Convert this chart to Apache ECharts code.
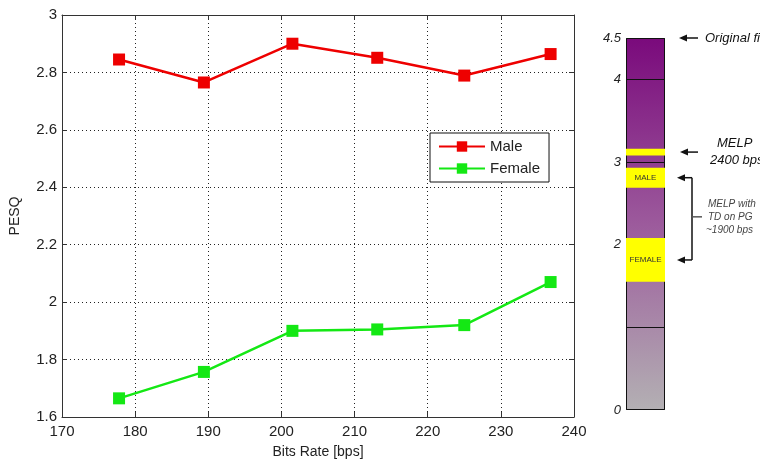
<!DOCTYPE html>
<html>
<head>
<meta charset="utf-8">
<script src="https://cdn.jsdelivr.net/npm/echarts@6/dist/echarts.min.js"></script>
<style>
  html, body { margin: 0; padding: 0; background: #fff; }
  #chart { width: 760px; height: 464px; }
</style>
</head>
<body>
<div id="chart"></div>
<script>
  // left plot: PESQ against bit rate
  const bitRates = [177.8, 189.4, 201.5, 213.1, 225, 236.8];
  const malePesq = [2.845, 2.765, 2.9, 2.851, 2.789, 2.864];
  const femalePesq = [1.665, 1.757, 1.9, 1.905, 1.92, 2.07];

  // right scale bar
  const scaleMax = 4.5;
  const scaleLabels = [0, 2, 3, 4, 4.5];
  const scaleLines = [1, 3, 4];
  const bandNames = ['', 'MALE', 'FEMALE'];
  const bandLow = [3.08, 2.69, 1.55];
  const bandHigh = [3.16, 2.93, 2.08];

  const chart = echarts.init(document.getElementById('chart'));
  const font = 'Liberation Sans, Arial, sans-serif';

  const boxAxis = {
    axisLine: { show: true, lineStyle: { color: '#333', width: 1 } },
    axisTick: { show: true, inside: true, length: 5, lineStyle: { color: '#333' } },
    axisLabel: { show: false },
    splitLine: { show: false },
  };

  chart.setOption({
    animation: false,
    backgroundColor: '#fff',
    grid: [
      { left: 62, right: 186, top: 15, bottom: 46 },
      { left: 626, width: 39, top: 38, bottom: 54 },
    ],
    xAxis: [
      {
        gridIndex: 0, type: 'value', min: 170, max: 240, interval: 10,
        name: 'Bits Rate [bps]', nameLocation: 'middle', nameGap: 28,
        nameTextStyle: { fontFamily: font, fontSize: 14, color: '#222' },
        axisLine: { lineStyle: { color: '#333' } },
        axisTick: { inside: true, length: 5, lineStyle: { color: '#333' } },
        axisLabel: { fontFamily: font, fontSize: 15, color: '#222', margin: 7 },
        splitLine: { show: true, lineStyle: { color: '#222', type: [1, 3] } },
      },
      Object.assign({ gridIndex: 0, type: 'value', min: 170, max: 240, interval: 10, position: 'top' }, boxAxis),
      {
        gridIndex: 1, type: 'category', data: ['scale'],
        axisLine: { show: false }, axisTick: { show: false }, axisLabel: { show: false },
      },
    ],
    yAxis: [
      {
        gridIndex: 0, type: 'value', min: 1.6, max: 3, interval: 0.2,
        name: 'PESQ', nameLocation: 'middle', nameGap: 40,
        nameTextStyle: { fontFamily: font, fontSize: 14, color: '#222' },
        axisLine: { show: true, lineStyle: { color: '#333' } },
        axisTick: { show: true, inside: true, length: 5, lineStyle: { color: '#333' } },
        axisLabel: { fontFamily: font, fontSize: 15, color: '#222', margin: 5 },
        splitLine: { show: true, lineStyle: { color: '#222', type: [1, 3] } },
      },
      Object.assign({ gridIndex: 0, type: 'value', min: 1.6, max: 3, interval: 0.2, position: 'right' }, boxAxis),
      {
        gridIndex: 1, type: 'value', min: 0, max: scaleMax, interval: 0.5,
        axisLine: { show: false }, axisTick: { show: false }, splitLine: { show: false },
        axisLabel: {
          fontFamily: font, fontSize: 13, fontStyle: 'italic', color: '#222', margin: 5,
          formatter: (v) => (scaleLabels.indexOf(v) >= 0 ? String(v) : ''),
        },
      },
    ],
    legend: {
      orient: 'vertical', left: 430, top: 133,
      backgroundColor: '#fff', borderColor: '#111', borderWidth: 1,
      padding: [6, 9, 6, 8], itemGap: 7, itemWidth: 46, itemHeight: 13,
      textStyle: { fontFamily: font, fontSize: 15, color: '#222' },
      data: ['Male', 'Female'],
    },
    series: [
      {
        name: 'Male', type: 'line', xAxisIndex: 0, yAxisIndex: 0,
        data: bitRates.map((x, i) => [x, malePesq[i]]),
        symbol: 'rect', symbolSize: 12,
        lineStyle: { color: '#ee0000', width: 2.5 },
        itemStyle: { color: '#ee0000' },
      },
      {
        name: 'Female', type: 'line', xAxisIndex: 0, yAxisIndex: 0,
        data: bitRates.map((x, i) => [x, femalePesq[i]]),
        symbol: 'rect', symbolSize: 12,
        lineStyle: { color: '#14e814', width: 2.5 },
        itemStyle: { color: '#14e814' },
      },
      {
        type: 'bar', xAxisIndex: 2, yAxisIndex: 2, barWidth: '100%',
        data: [scaleMax],
        itemStyle: {
          borderColor: '#111', borderWidth: 1,
          color: new echarts.graphic.LinearGradient(0, 0, 0, 1, [
            { offset: 0, color: '#7a0a7c' },
            { offset: 0.5, color: '#9c5a9c' },
            { offset: 1, color: '#b3b0b3' },
          ]),
        },
        markLine: {
          silent: true, symbol: 'none', label: { show: false },
          lineStyle: { color: '#111', type: 'solid', width: 1 },
          data: scaleLines.map((v) => ({ yAxis: v })),
        },
      },
      {
        type: 'custom', xAxisIndex: 2, yAxisIndex: 2, z: 5,
        data: bandNames.map((n, i) => [0, bandLow[i], bandHigh[i], n]),
        renderItem: function (params, api) {
          const top = api.coord([0, api.value(2)]);
          const bottom = api.coord([0, api.value(1)]);
          const w = api.size([1, 0])[0];
          const x = top[0] - w / 2;
          return {
            type: 'group',
            children: [
              { type: 'rect', shape: { x: x, y: top[1], width: w, height: bottom[1] - top[1] }, style: { fill: '#ffff00' } },
              {
                type: 'text',
                style: {
                  text: api.value(3), x: top[0], y: (top[1] + bottom[1]) / 2,
                  align: 'center', verticalAlign: 'middle',
                  fontFamily: font, fontSize: 8, fill: '#333',
                },
              },
            ],
          };
        },
      },
    ],
  });

  // annotations on the right, placed from the scale bar's own axis
  function yAt(v) {
    return chart.convertToPixel({ yAxisIndex: 2 }, v);
  }

  function arrowLeft(x1, x2, y, color) {
    return [
      { type: 'line', shape: { x1: x1 + 6, y1: y, x2: x2, y2: y }, style: { stroke: color, lineWidth: 1.5 } },
      { type: 'polygon', shape: { points: [[x1, y], [x1 + 8, y - 3.5], [x1 + 8, y + 3.5]] }, style: { fill: color } },
    ];
  }

  function note(text, x, y, size, color, weight) {
    return {
      type: 'text',
      style: {
        text: text, x: x, y: y, verticalAlign: 'middle',
        fontFamily: font, fontSize: size, fontStyle: 'italic', fontWeight: weight || 'normal', fill: color,
      },
    };
  }

  const yOrig = yAt(scaleMax);
  const yMelp = yAt((bandLow[0] + bandHigh[0]) / 2);
  const yMale = yAt((bandLow[1] + bandHigh[1]) / 2);
  const yFemale = yAt((bandLow[2] + bandHigh[2]) / 2);
  const yMid = (yMale + yFemale) / 2 - 2;

  const graphics = []
    .concat(arrowLeft(679, 698, yOrig, '#111'))
    .concat([note('Original file', 705, yOrig, 13, '#111')])
    .concat(arrowLeft(680, 698, yMelp, '#111'))
    .concat([note('MELP', 717, yMelp - 9, 13, '#111'), note('2400 bps', 710, yMelp + 8, 13, '#111')])
    .concat(arrowLeft(677, 692, yMale, '#111'))
    .concat(arrowLeft(677, 692, yFemale, '#111'))
    .concat([
      { type: 'line', shape: { x1: 692, y1: yMale, x2: 692, y2: yFemale }, style: { stroke: '#111', lineWidth: 1.5 } },
      { type: 'line', shape: { x1: 692, y1: yMid, x2: 702, y2: yMid }, style: { stroke: '#555', lineWidth: 1.5 } },
      note('MELP with', 708, yMid - 13, 10, '#444'),
      note('TD on PG', 708, yMid, 10, '#444'),
      note('~1900 bps', 706, yMid + 13, 10, '#444'),
    ]);

  chart.setOption({ graphic: graphics });
</script>
</body>
</html>
